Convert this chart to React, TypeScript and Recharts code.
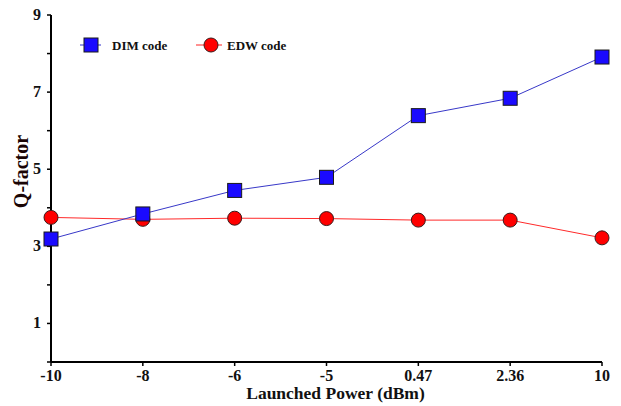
import React from 'react';
import { LineChart, Line, XAxis, YAxis } from 'recharts';

const categories = ['-10', '-8', '-6', '-5', '0.47', '2.36', '10'];
const dimValues = [3.19, 3.84, 4.45, 4.79, 6.39, 6.84, 7.91];
const edwValues = [3.75, 3.7, 3.73, 3.72, 3.68, 3.68, 3.22];
const yTicks = [0, 1, 2, 3, 4, 5, 6, 7, 8, 9];
const yLabelTicks = [1, 3, 5, 7, 9];

const data = categories.map((c, i) => ({ x: c, dim: dimValues[i], edw: edwValues[i] }));

const FONT = 'Liberation Serif, Tinos, Times New Roman, DejaVu Serif, serif';

const SquareDot = (props: any) => {
  const { cx, cy } = props;
  if (cx == null || cy == null) return null;
  const s = 14;
  return <rect x={cx - s / 2} y={cy - s / 2} width={s} height={s} fill="#1a0aff" stroke="#1a1a1a" strokeWidth={1} />;
};

const CircleDot = (props: any) => {
  const { cx, cy } = props;
  if (cx == null || cy == null) return null;
  return <circle cx={cx} cy={cy} r={7} fill="#ff0000" stroke="#3a1a1a" strokeWidth={1} />;
};

const YTick = (props: any) => {
  const { x, y, payload } = props;
  if (!yLabelTicks.includes(payload.value)) return null;
  return (
    <text x={x - 4} y={y} dy={5} textAnchor="end" style={{ fontFamily: FONT, fontWeight: 'bold', fontSize: 16 }} fill="#111">
      {payload.value}
    </text>
  );
};

const XTick = (props: any) => {
  const { x, y, payload } = props;
  return (
    <text x={x} y={y} dy={13} textAnchor="middle" style={{ fontFamily: FONT, fontWeight: 'bold', fontSize: 16 }} fill="#111">
      {payload.value}
    </text>
  );
};

const LegendOverlay = () => (
  <svg width={240} height={20} style={{ position: 'absolute', left: 80, top: 35 }}>
    <line x1={0} y1={10} x2={21} y2={10} stroke="#3333cc" strokeWidth={1} />
    <rect x={4} y={3} width={14} height={14} fill="#1a0aff" stroke="#1a1a1a" />
    <text x={32} y={15} style={{ fontFamily: FONT, fontWeight: 'bold', fontSize: 13 }} fill="#111">DIM code</text>
    <line x1={116} y1={10} x2={142} y2={10} stroke="#ff2222" strokeWidth={1} />
    <circle cx={131} cy={10} r={7} fill="#ff0000" stroke="#3a1a1a" />
    <text x={147} y={15} style={{ fontFamily: FONT, fontWeight: 'bold', fontSize: 13 }} fill="#111">EDW code</text>
  </svg>
);

export default function App() {
  return (
    <div style={{ position: 'absolute', left: 0, top: 0, width: 621, height: 406, background: '#fff', fontFamily: FONT }}>
      <LineChart width={621} height={406} data={data} margin={{ top: 15, right: 19, bottom: 4, left: 0 }}>
        <XAxis
          dataKey="x"
          type="category"
          height={40}
          tick={<XTick />}
          tickSize={4}
          axisLine={{ stroke: '#000', strokeWidth: 2 }}
          tickLine={{ stroke: '#000', strokeWidth: 1.5 }}
          label={{ value: 'Launched Power (dBm)', position: 'insideBottom', offset: 3, dx: 9, style: { fontFamily: FONT, fontWeight: 'bold', fontSize: 17.5, fill: '#111' } }}
        />
        <XAxis xAxisId="top" orientation="top" dataKey="x" type="category" tick={false} tickLine={false} height={0} axisLine={{ stroke: '#000', strokeWidth: 1.5 }} />
        <YAxis
          domain={[0, 9]}
          ticks={yTicks}
          interval={0}
          width={51}
          tick={<YTick />}
          tickSize={4}
          axisLine={{ stroke: '#000', strokeWidth: 2 }}
          tickLine={{ stroke: '#000', strokeWidth: 1.5 }}
          label={{ value: 'Q-factor', angle: -90, position: 'insideLeft', offset: 0, dx: 21, dy: -17, style: { fontFamily: FONT, fontWeight: 'bold', fontSize: 20, fill: '#1a0505', textAnchor: 'middle' } }}
        />
        <YAxis yAxisId="right" orientation="right" domain={[0, 9]} tick={false} tickLine={false} width={0} axisLine={{ stroke: '#000', strokeWidth: 1.5 }} />
        <Line dataKey="edw" stroke="#ff2a2a" strokeWidth={1} dot={<CircleDot />} isAnimationActive={false} />
        <Line dataKey="dim" stroke="#3838c8" strokeWidth={1} dot={<SquareDot />} isAnimationActive={false} />
      </LineChart>
      <LegendOverlay />
    </div>
  );
}
